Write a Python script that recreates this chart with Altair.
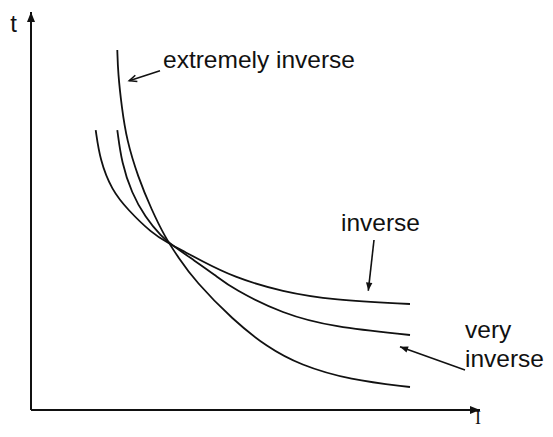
import altair as alt
import pandas as pd

# Curves: current I (x) vs operating time t (y), arbitrary units 0..10
inv_I = [1.441, 1.537, 1.797, 2.160, 2.688, 3.051, 3.430, 3.764, 4.499, 5.612, 6.726, 8.441]
inv_t = [7.035, 6.281, 5.528, 5.025, 4.447, 4.196, 3.970, 3.769, 3.342, 2.965, 2.764, 2.663]

vinv_I = [1.922, 2.020, 2.243, 2.539, 2.911, 3.134, 3.653, 4.098, 4.499, 5.612, 6.726, 8.441]
vinv_t = [7.035, 6.206, 5.452, 4.849, 4.347, 4.146, 3.744, 3.392, 3.040, 2.412, 2.085, 1.884]

ext_I = [1.922, 1.938, 2.020, 2.131, 2.383, 2.688, 2.984, 3.274, 3.653, 4.499, 5.256, 5.991, 7.105, 8.441]
ext_t = [9.045, 8.467, 7.613, 6.784, 5.854, 5.025, 4.347, 3.844, 3.241, 2.261, 1.583, 1.131, 0.754, 0.578]

curves = pd.concat([
    pd.DataFrame({"I": inv_I, "t": inv_t, "curve": "inverse"}),
    pd.DataFrame({"I": vinv_I, "t": vinv_t, "curve": "very inverse"}),
    pd.DataFrame({"I": ext_I, "t": ext_t, "curve": "extremely inverse"}),
])

# Axes lines and annotation arrows (tail -> tip)
seg_x = [0, 0, 2.873, 7.639, 9.666]
seg_y = [0, 0, 8.525, 4.271, 1.005]
seg_x2 = [0, 10, 2.189, 7.512, 8.218]
seg_y2 = [10, 0, 8.274, 2.997, 1.590]
seg_w = [2.0, 2.0, 1.6, 1.6, 1.6]
segs = pd.DataFrame({"x": seg_x, "y": seg_y, "x2": seg_x2, "y2": seg_y2, "w": seg_w})

# filled arrowheads (axes + inverse/very inverse labels)
head_x = [0, 10, 7.512, 8.218]
head_y = [10, 0, 2.997, 1.590]
head_angle = [0, 90, 186.4, 289.7]
head_size = [400, 400, 260, 260]
heads = pd.DataFrame({"x": head_x, "y": head_y, "angle": head_angle, "size": head_size})

# open arrowhead (extremely inverse label)
open_heads = pd.DataFrame({"x": [2.189], "y": [8.274], "angle": [252], "size": [220]})

# labels
lab_text = ["extremely inverse", "inverse", "very", "inverse"]
lab_x = [2.94, 6.904, 9.666, 9.666]
lab_y = [8.593, 4.497, 1.809, 1.088]
labels = pd.DataFrame({"text": lab_text, "x": lab_x, "y": lab_y})

axis_labels = pd.DataFrame({"text": ["t"], "x": [-0.39], "y": [9.497]})
ilabel = pd.DataFrame({"text": ["I"], "x": [9.955], "y": [-0.36]})

xs = alt.Scale(domain=[0, 10], nice=False, zero=False)
ys = alt.Scale(domain=[0, 10], nice=False, zero=False)

lines = alt.Chart(curves).mark_line(color="#111111", strokeWidth=1.8, interpolate="basis").encode(
    x=alt.X("I:Q", scale=xs, axis=None),
    y=alt.Y("t:Q", scale=ys, axis=None),
    detail="curve:N",
    order="I:Q",
)

rules = alt.Chart(segs).mark_rule(color="#111111").encode(
    x=alt.X("x:Q", scale=xs, axis=None),
    y=alt.Y("y:Q", scale=ys, axis=None),
    x2="x2:Q",
    y2="y2:Q",
    strokeWidth=alt.StrokeWidth("w:Q", scale=None),
)

filled = alt.Chart(heads).mark_point(
    shape="M0,0L-0.4,1L0.4,1Z", filled=True, color="#111111", opacity=1, strokeWidth=0
).encode(
    x=alt.X("x:Q", scale=xs, axis=None),
    y=alt.Y("y:Q", scale=ys, axis=None),
    angle=alt.Angle("angle:Q", scale=None),
    size=alt.Size("size:Q", scale=None),
)

openh = alt.Chart(open_heads).mark_point(
    shape="M-0.45,1L0,0L0.45,1", filled=False, color="#111111", opacity=1, strokeWidth=1.6
).encode(
    x=alt.X("x:Q", scale=xs, axis=None),
    y=alt.Y("y:Q", scale=ys, axis=None),
    angle=alt.Angle("angle:Q", scale=None),
    size=alt.Size("size:Q", scale=None),
)

texts = alt.Chart(labels).mark_text(
    align="left", baseline="alphabetic", font="Liberation Sans", fontSize=24.5, color="#111111"
).encode(
    x=alt.X("x:Q", scale=xs, axis=None),
    y=alt.Y("y:Q", scale=ys, axis=None),
    text="text:N",
)

tlab = alt.Chart(axis_labels).mark_text(
    align="center", baseline="alphabetic", font="Liberation Sans", fontSize=24, color="#111111"
).encode(
    x=alt.X("x:Q", scale=xs, axis=None),
    y=alt.Y("y:Q", scale=ys, axis=None),
    text="text:N",
)

ilab = alt.Chart(ilabel).mark_text(
    align="center", baseline="alphabetic", font="Liberation Serif", fontSize=18, color="#111111"
).encode(
    x=alt.X("x:Q", scale=xs, axis=None),
    y=alt.Y("y:Q", scale=ys, axis=None),
    text="text:N",
)

chart = alt.layer(lines, rules, filled, openh, texts, tlab, ilab).properties(
    width=449,
    height=398,
    autosize=alt.AutoSizeParams(type="none"),
    padding={"left": 23, "top": 4, "right": 65, "bottom": 19},
    background="white",
).configure_view(stroke=None)

chart.save("out.html", embed_options={"renderer": "svg", "actions": False})
